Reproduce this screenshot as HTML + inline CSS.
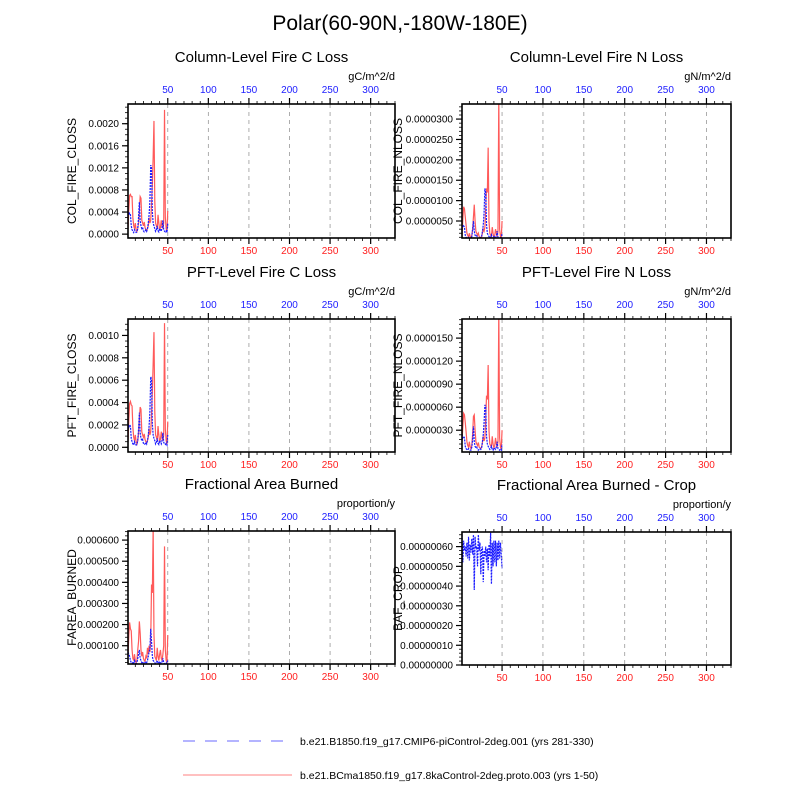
<!DOCTYPE html>
<html><head><meta charset="utf-8"><style>
body{margin:0;background:#fff}
svg text{font-family:"Liberation Sans",sans-serif}
</style></head><body>
<svg id="chart" width="800" height="800" viewBox="0 0 800 800">
<text x="400" y="30" font-size="21" text-anchor="middle">Polar(60-90N,-180W-180E)</text>
<g id="panels"></g>
<g>
<line x1="183" y1="741" x2="292" y2="741" stroke="#8888ff" stroke-width="1.2" stroke-dasharray="12,10"/>
<text x="300" y="745" font-size="10.5">b.e21.B1850.f19_g17.CMIP6-piControl-2deg.001 (yrs 281-330)</text>
<line x1="183" y1="775" x2="292" y2="775" stroke="#ff9a9a" stroke-width="1.2"/>
<text x="300" y="779" font-size="10.5">b.e21.BCma1850.f19_g17.8kaControl-2deg.proto.003 (yrs 1-50)</text>
</g>
</svg>
<script>
const xTicks=[50,100,150,200,250,300];
const colCRed=[0.10,0.45,0.70,0.72,0.68,0.68,0.30,0.15,0.10,0.20,0.08,0.05,0.10,0.20,0.45,0.68,0.65,0.25,0.20,0.15,0.22,0.12,0.08,0.06,0.10,0.15,0.30,0.20,0.25,0.55,0.90,1.40,2.05,0.60,0.20,0.15,0.10,0.35,0.20,0.08,0.12,0.25,0.15,0.10,0.20,2.25,0.30,0.10,0.05,0.42];
const colCBlue=[0.40,0.35,0.38,0.36,0.15,0.08,0.05,0.03,0.08,0.05,0.03,0.04,0.10,0.30,0.58,0.25,0.15,0.10,0.12,0.06,0.04,0.05,0.08,0.05,0.10,0.20,0.35,0.60,1.25,1.20,0.40,0.20,0.15,0.10,0.05,0.08,0.15,0.06,0.04,0.10,0.08,0.05,0.12,0.25,0.08,0.05,0.04,0.06,0.03,0.20];
const colNRed=[1.0,5.5,8.5,8.0,6.0,4.0,2.0,1.5,1.0,2.0,1.2,0.8,1.5,3.0,6.0,9.0,5.0,2.5,2.0,1.5,2.0,1.2,1.0,0.8,1.2,2.0,3.0,2.5,3.5,8.0,13.0,12.0,23.0,5.0,2.0,1.5,1.2,3.5,2.0,1.0,1.5,3.0,2.0,1.2,2.5,36.0,3.0,1.2,0.8,5.0];
const colNBlue=[4.0,3.5,3.8,3.5,1.5,1.0,0.8,0.6,1.0,0.8,0.6,0.7,1.2,3.0,5.0,2.5,1.5,1.2,1.4,0.9,0.7,0.8,1.0,0.8,1.2,2.5,4.0,7.0,13.0,12.0,4.0,2.0,1.5,1.2,0.8,1.0,1.6,0.9,0.7,1.2,1.0,0.8,1.4,2.5,1.0,0.8,0.7,0.9,0.6,2.0];
const pftCRed=[0.5,2.5,3.9,4.1,3.8,3.7,1.8,0.9,0.6,1.1,0.5,0.3,0.6,1.2,2.5,3.6,3.4,1.4,1.1,0.9,1.2,0.7,0.5,0.4,0.6,0.9,1.7,1.1,1.4,3.0,5.0,7.5,10.3,3.2,1.1,0.9,0.6,1.9,1.1,0.5,0.7,1.4,0.9,0.6,1.1,11.1,1.6,0.6,0.3,2.3];
const pftCBlue=[2.1,1.8,2.0,1.9,0.8,0.5,0.3,0.2,0.5,0.3,0.2,0.25,0.6,1.6,3.1,1.3,0.8,0.6,0.7,0.35,0.25,0.3,0.45,0.3,0.6,1.1,1.9,3.2,6.3,6.1,2.1,1.1,0.8,0.6,0.3,0.45,0.8,0.35,0.25,0.6,0.45,0.3,0.65,1.3,0.45,0.3,0.25,0.35,0.2,1.1];
const pftNRed=[0.15,0.35,0.52,0.50,0.40,0.28,0.15,0.10,0.08,0.15,0.08,0.06,0.10,0.25,0.48,0.50,0.30,0.15,0.12,0.10,0.14,0.08,0.07,0.06,0.08,0.14,0.22,0.16,0.20,0.45,0.75,0.70,1.15,0.30,0.12,0.10,0.08,0.22,0.12,0.07,0.10,0.20,0.12,0.08,0.15,1.90,0.20,0.08,0.05,0.30];
const pftNBlue=[0.25,0.20,0.22,0.20,0.09,0.06,0.05,0.04,0.06,0.05,0.04,0.04,0.08,0.18,0.35,0.15,0.09,0.07,0.08,0.05,0.04,0.05,0.06,0.05,0.07,0.15,0.24,0.40,0.63,0.60,0.22,0.12,0.09,0.07,0.05,0.06,0.09,0.05,0.04,0.07,0.06,0.05,0.08,0.15,0.06,0.05,0.04,0.05,0.04,0.12];
const fareaRed=[0.5,1.5,2.1,1.8,1.7,0.8,0.4,0.3,0.6,0.3,0.2,0.3,0.8,1.2,2.15,1.6,0.8,0.5,0.7,0.4,0.3,0.25,0.5,0.4,0.9,0.6,1.0,0.7,1.2,3.9,3.5,6.6,1.5,0.5,0.4,0.3,0.9,0.5,0.3,0.6,0.8,0.4,0.3,0.6,1.0,5.7,0.8,0.3,0.2,1.5];
const fareaBlue=[0.7,0.6,0.5,0.3,0.2,0.15,0.2,0.15,0.3,0.2,0.15,0.2,0.4,0.6,0.8,0.4,0.3,0.2,0.25,0.15,0.15,0.2,0.25,0.2,0.3,0.5,0.7,0.9,1.8,1.2,0.5,0.3,0.25,0.2,0.15,0.2,0.3,0.2,0.15,0.25,0.2,0.15,0.25,0.4,0.2,0.15,0.15,0.2,0.15,0.3];
const bafRed=[];
const bafBlue=[6.6,5.2,6.3,5.8,6.0,5.5,6.2,5.4,6.5,5.3,6.1,5.7,6.4,5.6,6.6,3.8,6.5,5.9,6.0,5.0,6.6,5.8,6.2,4.6,5.9,6.0,4.2,5.8,5.5,6.0,5.2,5.9,4.8,6.1,5.5,6.7,4.1,6.2,5.0,6.3,5.2,6.3,5.0,6.2,5.3,6.3,5.4,6.2,5.6,4.9];
const colCTicks=[0,0.4,0.8,1.2,1.6,2.0];
const colCLabels=["0.0000","0.0004","0.0008","0.0012","0.0016","0.0020"];
const colNTicks=[5,10,15,20,25,30];
const colNLabels=["0.0000050","0.0000100","0.0000150","0.0000200","0.0000250","0.0000300"];
const pftCTicks=[0,2,4,6,8,10];
const pftCLabels=["0.0000","0.0002","0.0004","0.0006","0.0008","0.0010"];
const pftNTicks=[0.3,0.6,0.9,1.2,1.5];
const pftNLabels=["0.0000030","0.0000060","0.0000090","0.0000120","0.0000150"];
const fareaTicks=[1,2,3,4,5,6];
const fareaLabels=["0.000100","0.000200","0.000300","0.000400","0.000500","0.000600"];
const bafTicks=[0,1,2,3,4,5,6];
const bafLabels=["0.00000000","0.00000010","0.00000020","0.00000030","0.00000040","0.00000050","0.00000060"];

const NS="http://www.w3.org/2000/svg";
const root=document.getElementById('panels');
function mk(tag,attrs,parent){const e=document.createElementNS(NS,tag);for(const k in attrs)e.setAttribute(k,attrs[k]);(parent||root).appendChild(e);return e;}

const panels=[
 {id:'col-c',title:'Column-Level Fire C Loss',ylab:'COL_FIRE_CLOSS',unit:'gC/m^2/d',L:128,R:395,T:104,B:238,ymin:-0.07,ymax:2.357,red:colCRed,blue:colCBlue,ticks:colCTicks,labels:colCLabels,minor:0.1},
 {id:'col-n',title:'Column-Level Fire N Loss',ylab:'COL_FIRE_NLOSS',unit:'gN/m^2/d',L:462,R:731,T:104,B:238,ymin:0.83,ymax:33.7,red:colNRed,blue:colNBlue,ticks:colNTicks,labels:colNLabels,minor:1},
 {id:'pft-c',title:'PFT-Level Fire C Loss',ylab:'PFT_FIRE_CLOSS',unit:'gC/m^2/d',L:128,R:395,T:319,B:452,ymin:-0.42,ymax:11.47,red:pftCRed,blue:pftCBlue,ticks:pftCTicks,labels:pftCLabels,minor:0.5},
 {id:'pft-n',title:'PFT-Level Fire N Loss',ylab:'PFT_FIRE_NLOSS',unit:'gN/m^2/d',L:462,R:731,T:319,B:452,ymin:0.016,ymax:1.749,red:pftNRed,blue:pftNBlue,ticks:pftNTicks,labels:pftNLabels,minor:0.06},
 {id:'farea',title:'Fractional Area Burned',ylab:'FAREA_BURNED',unit:'proportion/y',L:128,R:395,T:531,B:664,ymin:0.134,ymax:6.43,red:fareaRed,blue:fareaBlue,ticks:fareaTicks,labels:fareaLabels,minor:0.2},
 {id:'baf-crop',title:'Fractional Area Burned - Crop',ylab:'BAF_CROP',unit:'proportion/y',L:462,R:731,T:532,B:665,ymin:0,ymax:6.74,red:bafRed,blue:bafBlue,ticks:bafTicks,labels:bafLabels,minor:0.2}
];
const XMIN=1,XMAX=330;
panels.forEach(p=>{
 const g=mk('g',{});
 
 
 const xs=v=>p.L+(v-XMIN)*(p.R-p.L)/(XMAX-XMIN);
 const ys=v=>p.B-(v-p.ymin)*(p.B-p.T)/(p.ymax-p.ymin);
 const cx=(p.L+p.R)/2;
 const t=mk('text',{x:cx,y:p.T-42,'font-size':15,'text-anchor':'middle'},g);t.textContent=p.title;
 
 
 const u=mk('text',{x:p.R,y:p.T-24,'font-size':11,'text-anchor':'end'},g);u.textContent=p.unit;
 
 
 const yl=mk('text',{x:0,y:0,'font-size':12,'text-anchor':'middle',transform:`translate(${p.L-52},${(p.T+p.B)/2}) rotate(-90)`},g);yl.textContent=p.ylab;
 if(p.L>400) yl.setAttribute('transform',`translate(${p.L-60},${(p.T+p.B)/2}) rotate(-90)`);
 
 
 xTicks.forEach(v=>{const l=mk('line',{x1:xs(v),x2:xs(v),y1:p.T,y2:p.B,stroke:'#999','stroke-width':0.8,'stroke-dasharray':'4,4'},g);
  
  });
 for(let v=10;v<=XMAX;v+=10){const maj=v%50===0;const len=maj?6:3;
  const a=mk('line',{x1:xs(v),x2:xs(v),y1:p.B,y2:p.B+len,stroke:'#000','stroke-width':maj?1.2:0.8},g);
  
  
  const b=mk('line',{x1:xs(v),x2:xs(v),y1:p.T,y2:p.T-len,stroke:'#000','stroke-width':maj?1.2:0.8},g);
  
  }
 xTicks.forEach(v=>{
  const a=mk('text',{x:xs(v),y:p.B+16,'font-size':10,'text-anchor':'middle',fill:'#ff2020'},g);a.textContent=v;
  
  
  const b=mk('text',{x:xs(v),y:p.T-11,'font-size':10,'text-anchor':'middle',fill:'#2020ff'},g);b.textContent=v;
  
  });
 const start=Math.ceil(p.ymin/p.minor-1e-6);
 for(let k=start;k*p.minor<=p.ymax+1e-9;k++){const v=k*p.minor;const y=ys(v);
  const m=mk('line',{x1:p.L,x2:p.L-3,y1:y,y2:y,stroke:'#000','stroke-width':0.8},g);
  
  }
 p.ticks.forEach((v,i)=>{const y=ys(v);
  const m=mk('line',{x1:p.L,x2:p.L-6,y1:y,y2:y,stroke:'#000','stroke-width':1.2},g);
  
  
  const tx=mk('text',{x:p.L-9,y:y+3.5,'font-size':10,'text-anchor':'end'},g);tx.textContent=p.labels[i];
  
  });
 const cp=mk('clipPath',{id:'clip-'+p.id},g);mk('rect',{x:p.L,y:p.T,width:p.R-p.L,height:p.B-p.T},cp);
 const line=(arr,col,dash,name)=>{if(!arr.length)return;
  const d=arr.map((v,i)=>(i?'L':'M')+xs(i+1).toFixed(2)+','+ys(v).toFixed(2)).join('');
  const pa=mk('path',{d:d,fill:'none',stroke:col,'stroke-width':1.2,'clip-path':`url(#clip-${p.id})`},g);
  if(dash)pa.setAttribute('stroke-dasharray',dash);
  
  };
 line(p.red,'#ff5a5a',null,p.id+'-red-series');
 line(p.blue,'#1a1aff','2,1',p.id+'-blue-series');
 const fr=mk('rect',{x:p.L,y:p.T,width:p.R-p.L,height:p.B-p.T,fill:'none',stroke:'#000','stroke-width':1.6},g);
 
 
});
</script>
</body></html>
